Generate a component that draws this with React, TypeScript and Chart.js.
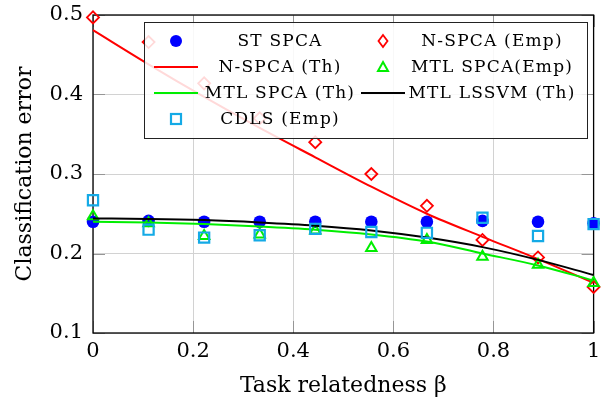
import React, { useEffect, useRef } from "react";
import { Chart, registerables } from "chart.js";

Chart.register(...registerables);

const beta = [0, 0.111, 0.222, 0.333, 0.444, 0.556, 0.667, 0.778, 0.889, 1];
const stSpca = [0.240, 0.241, 0.240, 0.240, 0.240, 0.240, 0.240, 0.241, 0.240, 0.238];
const nSpcaEmp = [0.497, 0.466, 0.414, 0.370, 0.340, 0.300, 0.260, 0.217, 0.195, 0.158];
const nSpcaTh = [0.481, 0.438, 0.397, 0.358, 0.321, 0.284, 0.250, 0.221, 0.193, 0.163];
const mtlSpcaEmp = [0.247, 0.238, 0.222, 0.224, 0.229, 0.207, 0.217, 0.196, 0.186, 0.163];
const mtlSpcaTh = [0.240, 0.239, 0.237, 0.234, 0.230, 0.224, 0.215, 0.200, 0.185, 0.166];
const mtlLssvmTh = [0.244, 0.2435, 0.242, 0.239, 0.235, 0.229, 0.220, 0.208, 0.192, 0.173];
const cdlsEmp = [0.267, 0.230, 0.220, 0.223, 0.231, 0.227, 0.226, 0.245, 0.222, 0.237];
const xTicks = [0, 0.2, 0.4, 0.6, 0.8, 1];
const yTicks = [0.1, 0.2, 0.3, 0.4, 0.5];

const BLUE = "rgb(0,0,255)";
const RED = "rgb(255,0,0)";
const GREEN = "rgb(0,238,0)";
const CYAN = "rgb(20,170,230)";
const FONT = "'DejaVu Serif', serif";

const pts = (ys: number[]) => beta.map((x, i) => ({ x, y: ys[i] }));

type Entry = { label: string; kind: string; color: string };
const legendRows: Entry[][] = [
  [{ label: "ST SPCA", kind: "circle", color: BLUE }, { label: "N-SPCA (Emp)", kind: "diamond", color: RED }],
  [{ label: "N-SPCA (Th)", kind: "line", color: RED }, { label: "MTL SPCA(Emp)", kind: "triangle", color: GREEN }],
  [{ label: "MTL SPCA (Th)", kind: "line", color: GREEN }, { label: "MTL LSSVM (Th)", kind: "line", color: "#000" }],
  [{ label: "CDLS (Emp)", kind: "square", color: CYAN }],
];

const framePlugin = {
  id: "frame",
  beforeDatasetsDraw(chart: any) {
    const { ctx, chartArea: a } = chart;
    const xs = chart.scales.x;
    const ys = chart.scales.y;
    ctx.save();
    ctx.strokeStyle = "rgb(150,150,150)";
    ctx.lineWidth = 1;
    const L = 12;
    ctx.beginPath();
    xTicks.forEach((t) => {
      const px = Math.round(xs.getPixelForValue(t)) + 0.5;
      ctx.moveTo(px, a.bottom); ctx.lineTo(px, a.bottom - L);
      ctx.moveTo(px, a.top); ctx.lineTo(px, a.top + L);
    });
    yTicks.forEach((t) => {
      const py = Math.round(ys.getPixelForValue(t)) + 0.5;
      ctx.moveTo(a.left, py); ctx.lineTo(a.left + L, py);
      ctx.moveTo(a.right, py); ctx.lineTo(a.right - L, py);
    });
    ctx.stroke();
    ctx.strokeStyle = "#000";
    ctx.lineWidth = 1.3;
    ctx.strokeRect(a.left, a.top, a.right - a.left, a.bottom - a.top);
    ctx.restore();
  },
};

function drawMarker(ctx: CanvasRenderingContext2D, kind: string, color: string, x: number, y: number) {
  ctx.save();
  ctx.strokeStyle = color;
  ctx.fillStyle = color;
  if (kind === "circle") {
    ctx.beginPath(); ctx.arc(x, y, 6, 0, Math.PI * 2); ctx.fill();
  } else if (kind === "diamond") {
    ctx.lineWidth = 1.8;
    ctx.beginPath(); ctx.moveTo(x, y - 6); ctx.lineTo(x + 4.5, y); ctx.lineTo(x, y + 6); ctx.lineTo(x - 4.5, y); ctx.closePath(); ctx.stroke();
  } else if (kind === "triangle") {
    ctx.lineWidth = 2;
    ctx.beginPath(); ctx.moveTo(x, y - 5); ctx.lineTo(x + 5, y + 4); ctx.lineTo(x - 5, y + 4); ctx.closePath(); ctx.stroke();
  } else if (kind === "square") {
    ctx.lineWidth = 2.2;
    ctx.strokeRect(x - 5, y - 5, 10, 10);
  } else {
    ctx.lineWidth = 2;
    ctx.beginPath(); ctx.moveTo(x - 22, y); ctx.lineTo(x + 22, y); ctx.stroke();
  }
  ctx.restore();
}

const legendPlugin = {
  id: "boxLegend",
  afterDatasetsDraw(chart: any) {
    const ctx: CanvasRenderingContext2D = chart.ctx;
    const bx = 144, by = 22, bw = 443, bh = 116;
    ctx.save();
    ctx.fillStyle = "rgba(255,255,255,0.85)";
    ctx.fillRect(bx, by, bw, bh);
    ctx.strokeStyle = "#222";
    ctx.lineWidth = 1;
    ctx.strokeRect(bx + 0.5, by + 0.5, bw, bh);
    const rowY = [41, 67, 93, 119];
    const symX = [176, 383];
    const textX = [280, 492];
    ctx.font = `17px ${FONT}`;
    (ctx as any).letterSpacing = "1.2px";
    ctx.textAlign = "center";
    ctx.textBaseline = "middle";
    legendRows.forEach((row, r) => {
      row.forEach((e, c) => {
        drawMarker(ctx, e.kind, e.color, symX[c], rowY[r]);
        ctx.fillStyle = "#000";
        ctx.fillText(e.label, textX[c], rowY[r] + 1);
      });
    });
    ctx.restore();
  },
};

export default function App() {
  const ref = useRef<HTMLCanvasElement>(null);
  useEffect(() => {
    document.body.style.margin = "0";
    const common = { showLine: false, clip: false as any };
    const lineCommon = { pointRadius: 0, borderWidth: 2, cubicInterpolationMode: "monotone" as const, clip: false as any, fill: false };
    const chart = new Chart(ref.current!, {
      type: "scatter",
      data: {
        datasets: [
          { ...common, label: "CDLS (Emp)", data: pts(cdlsEmp), pointStyle: "rect", pointRadius: 7.2, borderColor: CYAN, backgroundColor: "rgba(0,0,0,0)", borderWidth: 2.2 },
          { ...lineCommon, type: "line" as any, label: "MTL LSSVM (Th)", data: pts(mtlLssvmTh), borderColor: "#000", showLine: true },
          { ...lineCommon, type: "line" as any, label: "MTL SPCA (Th)", data: pts(mtlSpcaTh), borderColor: GREEN, showLine: true },
          { ...common, label: "MTL SPCA(Emp)", data: pts(mtlSpcaEmp), pointStyle: "triangle", pointRadius: 6, borderColor: GREEN, backgroundColor: "rgba(0,0,0,0)", borderWidth: 2 },
          { ...lineCommon, type: "line" as any, label: "N-SPCA (Th)", data: pts(nSpcaTh), borderColor: RED, showLine: true },
          { ...common, label: "N-SPCA (Emp)", data: pts(nSpcaEmp), pointStyle: "rectRot", pointRadius: 6, borderColor: RED, backgroundColor: "rgba(0,0,0,0)", borderWidth: 1.8 },
          { ...common, label: "ST SPCA", data: pts(stSpca), pointStyle: "circle", pointRadius: 6.3, borderColor: BLUE, backgroundColor: BLUE, borderWidth: 0 },
        ],
      },
      options: {
        animation: false,
        responsive: false,
        layout: { padding: { top: 15, right: 6, left: 0, bottom: 0 } },
        plugins: { legend: { display: false }, tooltip: { enabled: false } },
        scales: {
          x: {
            type: "linear",
            min: 0,
            max: 1,
            afterFit: (s: any) => { s.height = 67; s.paddingLeft = 0; s.paddingRight = 0; },
            afterBuildTicks: (s: any) => { s.ticks = xTicks.map((v) => ({ value: v })); },
            grid: { color: "rgb(210,210,210)", lineWidth: 1, drawTicks: false },
            border: { display: false },
            ticks: { color: "#000", font: { family: FONT, size: 21 }, padding: 6, callback: (v: any) => String(v) },
            title: { display: true, text: "Task relatedness β", color: "#000", font: { family: FONT, size: 22 }, padding: { top: 0, bottom: 1 } },
          },
          y: {
            type: "linear",
            min: 0.1,
            max: 0.5,
            afterFit: (s: any) => { s.width = 93; s.paddingTop = 0; s.paddingBottom = 0; },
            afterBuildTicks: (s: any) => { s.ticks = yTicks.map((v) => ({ value: v })); },
            grid: { color: "rgb(210,210,210)", lineWidth: 1, drawTicks: false },
            border: { display: false },
            ticks: { color: "#000", font: { family: FONT, size: 21 }, padding: 10, callback: (v: any) => String(Math.round(v * 10) / 10) },
            title: { display: true, text: "Classification error", color: "#000", font: { family: FONT, size: 22 }, padding: { top: 12, bottom: 0 } },
          },
        },
      },
      plugins: [framePlugin, legendPlugin],
    });
    return () => chart.destroy();
  }, []);
  return <canvas ref={ref} width={603} height={400} style={{ display: "block", width: 603, height: 400 }} />;
}
